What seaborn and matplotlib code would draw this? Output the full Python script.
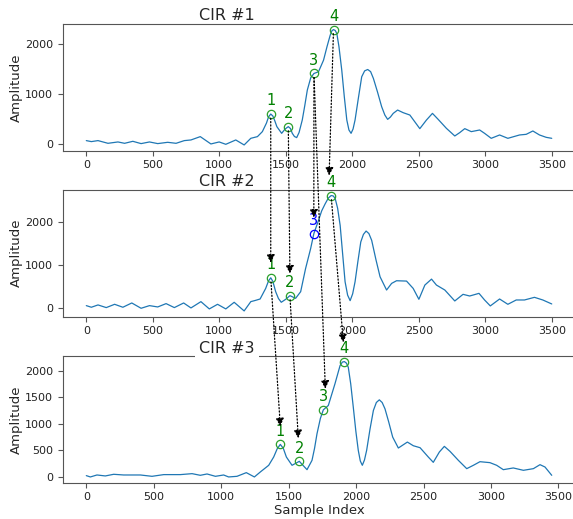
import matplotlib
matplotlib.use("Agg")
import matplotlib.pyplot as plt
import seaborn as sns
from matplotlib.patches import ConnectionPatch
from matplotlib.transforms import offset_copy

# ---------------- data ----------------
cir1_x = [0, 38, 88, 163, 238, 288, 350, 412, 475, 537, 612, 675, 737, 787, 857, 937, 999,
          1049, 1124, 1187, 1237, 1287, 1324, 1355, 1370, 1387, 1403, 1418, 1433, 1469, 1495,
          1519, 1535, 1549, 1565, 1582, 1600, 1624, 1643, 1662, 1688, 1712, 1746, 1784, 1810,
          1834, 1847, 1859, 1872, 1884, 1900, 1921, 1940, 1959, 1975, 1991, 2006, 2021, 2046,
          2071, 2093, 2116, 2138, 2159, 2190, 2221, 2245, 2266, 2287, 2308, 2341, 2383, 2433,
          2508, 2558, 2603, 2646, 2708, 2771, 2808, 2846, 2895, 2958, 2995, 3045, 3108, 3170,
          3258, 3308, 3358, 3408, 3458, 3500]
cir1_y = [67, 47, 67, 13, 40, 13, 53, 7, 40, 7, 33, 13, 67, 80, 147, 0, 40,
          -7, 80, -20, 113, 147, 247, 420, 540, 600, 560, 460, 347, 213, 300,
          347, 310, 213, 150, 127, 230, 480, 770, 1080, 1330, 1413, 1447, 1680, 1950,
          2180, 2270, 2293, 2275, 2213, 1950, 1480, 950, 480, 280, 213, 300, 480, 920,
          1347, 1465, 1493, 1450, 1313, 1040, 747, 580, 493, 540, 613, 680, 627, 580,
          307, 480, 613, 493, 313, 160, 227, 307, 247, 280, 213, 113, 180, 113,
          180, 193, 260, 180, 133, 113]

cir2_x = [0, 38, 88, 150, 213, 275, 342, 412, 475, 537, 600, 662, 732, 787, 862, 925, 987,
          1049, 1112, 1187, 1237, 1274, 1307, 1349, 1370, 1387, 1403, 1424, 1445, 1466, 1499,
          1531, 1574, 1612, 1649, 1687, 1711, 1746, 1770, 1796, 1820, 1841, 1856, 1871, 1890,
          1909, 1928, 1946, 1965, 1984, 2003, 2021, 2042, 2064, 2084, 2104, 2125, 2146, 2178,
          2209, 2258, 2296, 2333, 2408, 2458, 2501, 2546, 2596, 2633, 2696, 2771, 2833, 2883,
          2953, 2995, 3038, 3108, 3170, 3233, 3295, 3370, 3433, 3500]
cir2_y = [54, 16, 70, 8, 85, 16, 116, -8, 54, 23, 101, 8, 116, 0, 147, -23, 85,
          -23, 132, -70, 147, 178, 209, 457, 630, 705, 620, 380, 220, 132, 201,
          287, 225, 380, 922, 1388, 1736, 2047, 2270, 2434, 2570, 2628, 2620, 2566, 2330,
          1930, 1250, 612, 300, 171, 330, 612, 1080, 1543, 1720, 1798, 1740, 1581, 1130,
          729, 419, 574, 636, 628, 457, 202, 535, 674, 535, 419, 163, 318, 279,
          341, 186, 47, 209, 85, 186, 186, 248, 186, 93]

cir3_x = [0, 30, 79, 141, 203, 277, 401, 487, 574, 697, 784, 845, 895, 957, 1018, 1055,
          1117, 1186, 1246, 1290, 1352, 1389, 1415, 1438, 1460, 1483, 1525, 1579, 1606, 1636,
          1673, 1692, 1710, 1735, 1757, 1794, 1843, 1881, 1898, 1913, 1928, 1942, 1960, 1979,
          1998, 2016, 2031, 2046, 2062, 2078, 2103, 2128, 2150, 2172, 2193, 2214, 2242, 2271,
          2313, 2350, 2380, 2424, 2474, 2535, 2572, 2617, 2654, 2696, 2758, 2820, 2869, 2918,
          2992, 3042, 3091, 3165, 3240, 3314, 3363, 3400, 3450]
cir3_y = [25, 0, 37, 19, 50, 37, 37, 12, 44, 44, 62, 31, 56, 12, 37, 0,
          12, 81, 0, 94, 219, 375, 530, 612, 540, 375, 219, 294, 219, 137,
          312, 540, 812, 1100, 1262, 1344, 1750, 2094, 2160, 2169, 2140, 2062, 1750, 1312,
          860, 500, 300, 219, 320, 500, 900, 1250, 1400, 1450, 1400, 1281, 1030, 750,
          544, 606, 656, 587, 550, 375, 275, 469, 575, 481, 312, 156, 219, 287,
          269, 219, 137, 169, 125, 156, 231, 187, 31]

titles = ["CIR #1", "CIR #2", "CIR #3"]
peak_labels = ["1", "2", "3", "4"]
# marked peaks (sample index, amplitude) per CIR
peaks_x = [[1387, 1519, 1712, 1859], [1387, 1531, 1711, 1841], [1438, 1579, 1757, 1913]]
peaks_y = [[600, 347, 1413, 2293], [705, 287, 1736, 2628], [612, 294, 1262, 2169]]
peak_ok = [[True] * 4, [True, True, False, True], [True] * 4]
# links: (from CIR, from peak, to CIR, to peak)
links = [(0, 0, 1, 0), (0, 1, 1, 1), (0, 2, 1, 2), (0, 3, 1, 3),
         (0, 2, 2, 2), (1, 0, 2, 0), (1, 1, 2, 1), (1, 3, 2, 3)]
# arrow tip lift above target peak (pixels dx, dy)
link_tip = [(0, 15), (0, 22), (0, 16), (-2, 20), (2, 21), (0, 18), (-1, 23), (-1, 19)]

# ---------------- style ----------------
sns.set_style("ticks")
plt.rcParams["font.family"] = ["DejaVu Sans"]
plt.rcParams["axes.edgecolor"] = "#555555"
plt.rcParams["xtick.color"] = "#555555"
plt.rcParams["ytick.color"] = "#555555"
plt.rcParams["xtick.labelcolor"] = "#222222"
plt.rcParams["ytick.labelcolor"] = "#222222"

fig = plt.figure(figsize=(5.73, 5.19), dpi=100)
bottoms = [0.7096, 0.3898, 0.0699]
axes = [fig.add_axes([0.110, b, 0.8935, 0.2445]) for b in bottoms]

line_color = "#1f77b4"
data = [(cir1_x, cir1_y), (cir2_x, cir2_y), (cir3_x, cir3_y)]
for i, ax in enumerate(axes):
    xs, ys = data[i]
    sns.lineplot(x=xs, y=ys, ax=ax, color=line_color, linewidth=0.9,
                 estimator=None, sort=False, solid_joinstyle="round")
    for k in range(4):
        ok = peak_ok[i][k]
        mc = "#2ca02c" if ok else "blue"
        tc = "green" if ok else "blue"
        ax.plot(peaks_x[i][k], peaks_y[i][k], "o", mfc="none", mec=mc, ms=6, mew=0.9)
        ax.annotate(peak_labels[k], (peaks_x[i][k], peaks_y[i][k]),
                    xytext=(0, 4), textcoords="offset points", ha="center",
                    va="bottom", color=tc, fontsize=10.5)
    ax.set_ylabel("Amplitude", fontsize=9.5, labelpad=2)
    ax.tick_params(labelsize=8, length=3.5, width=0.8)
    ax.set_xticks([0, 500, 1000, 1500, 2000, 2500, 3000, 3500])
    if i == 2:
        ax.set_title(titles[i], x=0.32, fontsize=11.5, pad=2,
                     bbox=dict(facecolor="white", edgecolor="none", pad=3))
    else:
        ax.set_title(titles[i], x=0.32, fontsize=11.5, pad=3)
    sns.despine(ax=ax, right=True, top=False)

axes[2].set_xlabel("Sample Index", fontsize=9.5, labelpad=1)

for (ca, pa, cb, pb), (dx, dy) in zip(links, link_tip):
    con = ConnectionPatch(
        xyA=(peaks_x[ca][pa], peaks_y[ca][pa]), coordsA=axes[ca].transData,
        xyB=(peaks_x[cb][pb], peaks_y[cb][pb]),
        coordsB=offset_copy(axes[cb].transData, fig=fig, x=dx, y=dy, units="dots"),
        arrowstyle="-|>", linestyle=":", linewidth=0.9, color="black",
        mutation_scale=12, shrinkA=3, shrinkB=0)
    fig.add_artist(con)

fig.savefig("out.png", dpi=100)
